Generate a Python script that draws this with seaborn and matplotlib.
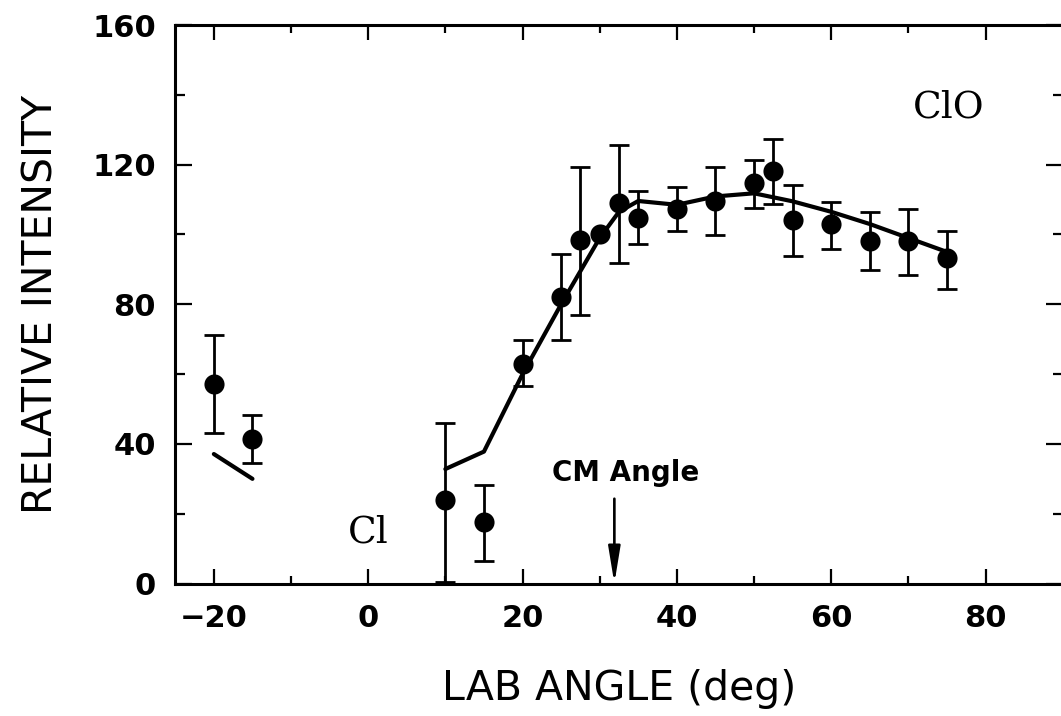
import numpy as np
import pandas as pd
import matplotlib
matplotlib.use("Agg")
import matplotlib.pyplot as plt
import seaborn as sns
from matplotlib.ticker import MultipleLocator

# measured points (lab angle, intensity, error bar ends)
angles = [-20, -15, 10, 15, 20, 25, 27.5, 30, 32.5, 35, 40, 45, 50, 52.5, 55, 60, 65, 70, 75]
intensity = [57.2, 41.3, 23.8, 17.5, 63.0, 82.1, 98.3, 100.1, 109.1, 104.6, 107.3, 109.6,
             114.7, 118.1, 104.1, 103.1, 98.2, 98.2, 93.2]
err_low = [43.1, 34.6, 0.5, 6.4, 56.5, 69.8, 77.0, 100.1, 91.8, 97.2, 101.0, 99.8,
           107.7, 108.6, 93.8, 95.9, 89.7, 88.5, 84.4]
err_high = [71.3, 48.2, 46.1, 28.3, 69.9, 94.3, 119.2, 100.1, 125.7, 112.6, 113.7, 119.4,
            121.3, 127.4, 114.1, 109.3, 106.3, 107.3, 101.0]

# fitted curves
clo_fit_angle = [10, 15, 20, 25, 30, 32.5, 35, 40, 45, 50, 55, 60, 65, 70, 75]
clo_fit_value = [32.8, 37.8, 60.0, 80.0, 99.0, 106.5, 109.6, 108.5, 110.9, 111.8,
                 109.5, 106.5, 103.0, 99.0, 95.0]
cl_fit_angle = [-20, -15]
cl_fit_value = [37.1, 30.0]

cm_angle = 31.9

sns.set_style("ticks")
plt.rcParams["font.family"] = ["DejaVu Sans"]
plt.rcParams["text.color"] = "black"
plt.rcParams["axes.labelcolor"] = "black"

fig = plt.figure(figsize=(10.61, 7.16), dpi=100)
ax = fig.add_axes([0.1652, 0.185, 0.8364, 0.780])

pts = pd.DataFrame({"angle": angles, "intensity": intensity,
                    "lo": err_low, "hi": err_high})
has_err = pts["hi"] > pts["lo"]
e = pts[has_err]
ax.errorbar(e["angle"], e["intensity"],
            yerr=[e["intensity"] - e["lo"], e["hi"] - e["intensity"]],
            fmt="none", ecolor="black", elinewidth=2, capsize=7, capthick=2, zorder=2)

sns.lineplot(x=clo_fit_angle, y=clo_fit_value, ax=ax, color="black", lw=3,
             sort=False, estimator=None, zorder=2)
sns.lineplot(x=cl_fit_angle, y=cl_fit_value, ax=ax, color="black", lw=3,
             sort=False, estimator=None, zorder=2)
sns.scatterplot(data=pts, x="angle", y="intensity", ax=ax, color="black",
                s=210, linewidth=0, zorder=3)

ax.set_xlim(-25, 90)
ax.set_ylim(0, 160)
ax.xaxis.set_major_locator(MultipleLocator(20))
ax.xaxis.set_minor_locator(MultipleLocator(10))
ax.yaxis.set_major_locator(MultipleLocator(40))
ax.yaxis.set_minor_locator(MultipleLocator(20))

ax.tick_params(which="both", direction="in", top=True, right=True,
               width=1.6, color="black", labelcolor="black")
ax.tick_params(axis="x", which="major", length=10.5, pad=15, labelsize=22)
ax.tick_params(axis="x", which="minor", length=5.5)
ax.tick_params(axis="y", which="major", length=12, pad=14, labelsize=22)
ax.tick_params(axis="y", which="minor", length=7)
plt.setp(ax.get_xticklabels() + ax.get_yticklabels(), fontweight="bold")

for sp in ax.spines.values():
    sp.set_linewidth(2.2)
    sp.set_color("black")

ax.set_xlabel("LAB ANGLE (deg)", fontsize=29.5, va="center", color="black")
ax.xaxis.set_label_coords(0.5, -0.188)
ax.set_ylabel("RELATIVE INTENSITY", fontsize=29.5, va="center", color="black")
ax.yaxis.set_label_coords(-0.151, 0.5)

ax.text(75.2, 133.6, "ClO", family="DejaVu Serif", fontsize=27, ha="center",
        va="baseline", color="black")
ax.text(0.0, 11.7, "Cl", family="DejaVu Serif", fontsize=27, ha="center",
        va="baseline", color="black")
ax.text(33.3, 29.3, "CM Angle", fontsize=20, fontweight="bold", ha="center",
        va="baseline", color="black")
ax.annotate("", xy=(cm_angle, 0), xytext=(cm_angle, 24.3),
            arrowprops=dict(arrowstyle="-|>,head_length=2.2,head_width=0.36",
                            color="black", lw=1.9, shrinkA=0, shrinkB=0,
                            mutation_scale=10))

fig.savefig("out.png", dpi=100)
